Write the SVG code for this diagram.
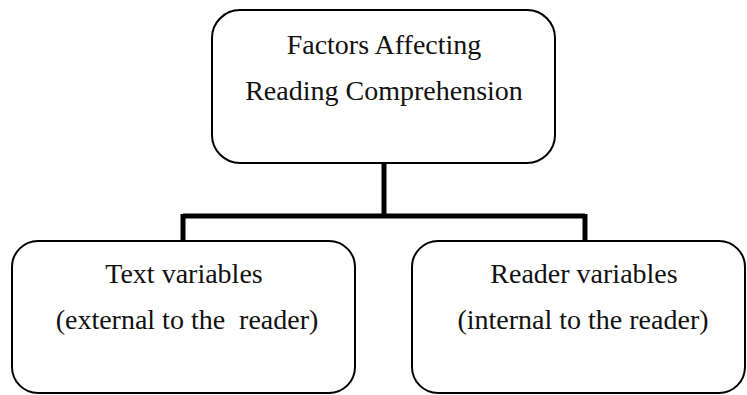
<svg xmlns="http://www.w3.org/2000/svg" width="747" height="395" viewBox="0 0 747 395">
<style>
svg text{font-family:Liberation Serif, serif !important;font-size:28px;fill:#111;text-anchor:middle}
.box{fill:#fff;stroke:#000;stroke-width:2}
.conn{fill:none;stroke:#000;stroke-width:5}
</style>
<rect width="747" height="395" fill="#fff"/>
<g id="connectors">
<path class="conn" d="M384 163 V216 M183 216 H585 M183 214 V241 M585 214 V241"/>
</g>
<g id="node-top">
<rect class="box" x="212" y="10" width="343" height="153" rx="28" ry="28"/>
<text x="384" y="54" style="font-family:Liberation Serif, serif !important">Factors Affecting</text>
<text x="384" y="100" style="font-family:Liberation Serif, serif !important">Reading Comprehension</text>
</g>
<g id="node-left">
<rect class="box" x="12" y="241" width="343" height="152" rx="26" ry="26"/>
<text x="184" y="283" style="font-family:Liberation Serif, serif !important">Text variables</text>
<text x="187" y="329" style="font-family:Liberation Serif, serif !important;white-space:pre">(external to the  reader)</text>
</g>
<g id="node-right">
<rect class="box" x="412" y="241" width="333" height="152" rx="26" ry="26"/>
<text x="584" y="283" style="font-family:Liberation Serif, serif !important">Reader variables</text>
<text x="583" y="329" style="font-family:Liberation Serif, serif !important">(internal to the reader)</text>
</g>
</svg>
